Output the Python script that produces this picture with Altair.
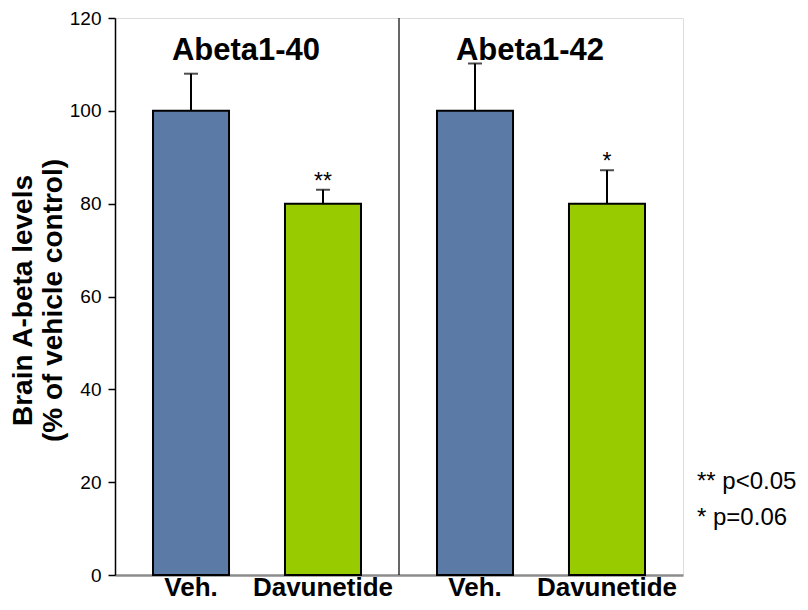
import altair as alt
import pandas as pd

groups = ["Abeta1-40", "Abeta1-40", "Abeta1-42", "Abeta1-42"]
treatments = ["Veh.", "Davunetide", "Veh.", "Davunetide"]
means = [100, 80, 100, 80]
upper = [108, 83, 110.2, 87.2]
stars = ["", "**", "", "*"]

panel_titles = ["Abeta1-40", "Abeta1-42"]
panel_title_y = [111, 111]

note_lines = ["** p<0.05", "* p=0.06"]
note_y = [20, 12.3]

y_ticks = [0, 20, 40, 60, 80, 100, 120]
treat_order = ["Veh.", "Davunetide"]
colors = ["#5B7BA6", "#99CC00"]

FONT = "Liberation Sans"

df = pd.DataFrame({"group": groups, "treatment": treatments, "mean": means,
                   "upper": upper, "star": stars})
tdf = pd.DataFrame({"group": panel_titles, "y": panel_title_y})
ndf = pd.DataFrame({"text": note_lines, "y": note_y})
div = pd.DataFrame({"group": ["Abeta1-42"]})

xg = alt.X("group:N", sort=panel_titles,
           scale=alt.Scale(paddingInner=0, paddingOuter=0),
           axis=alt.Axis(labels=False, ticks=False, title=None,
                         domainColor="#8c8c8c", domainWidth=2.5))
xo = alt.XOffset("treatment:N", sort=treat_order,
                 scale=alt.Scale(paddingInner=0.424, paddingOuter=0.288))
yscale = alt.Scale(domain=[0, 120], nice=False)
yaxis = alt.Axis(values=y_ticks, title=["Brain A-beta levels", "(% of vehicle control)"],
                 titleFontSize=28, titleFontWeight="bold", titleColor="black",
                 titleFont=FONT, titleLineHeight=30, titleAngle=-90,
                 titleX=-92, titleY=282, titleAlign="center", titleBaseline="middle",
                 labelFontSize=19, labelFont=FONT, labelColor="black", labelPadding=7,
                 tickSize=7, tickColor="black", tickWidth=1.5,
                 domainColor="black", domainWidth=1.5, grid=False)

base = alt.Chart(df)

bars = base.mark_bar(stroke="black", strokeWidth=2).encode(
    x=xg, xOffset=xo,
    y=alt.Y("mean:Q", scale=yscale, axis=yaxis),
    color=alt.Color("treatment:N", scale=alt.Scale(domain=treat_order, range=colors), legend=None),
)

err = base.mark_rule(color="black", strokeWidth=2).encode(
    x=xg, xOffset=xo, y="mean:Q", y2="upper:Q")

caps = base.mark_tick(color="black", thickness=2, size=14, orient="horizontal").encode(
    x=xg, xOffset=xo, y="upper:Q")

star_txt = base.mark_text(font=FONT, fontSize=23, color="black", baseline="alphabetic",
                          dy=-1).encode(x=xg, xOffset=xo, y="upper:Q", text="star:N")

xlab = base.mark_text(font=FONT, fontSize=26, fontWeight="bold", color="black",
                      baseline="bottom", dy=26).encode(
    x=xg, xOffset=xo, y=alt.datum(0), text="treatment:N")

titles = alt.Chart(tdf).mark_text(font=FONT, fontSize=31, fontWeight="bold", color="black",
                                  baseline="alphabetic", dx=-11).encode(
    x=xg, y="y:Q", text="group:N")

divider = alt.Chart(div).mark_rule(color="black", strokeWidth=1.2).encode(
    x=alt.X("group:N", sort=panel_titles, bandPosition=0), y=alt.datum(0), y2=alt.datum(120))

notes = alt.Chart(ndf).mark_text(font=FONT, fontSize=24, color="black", align="left",
                                 baseline="middle").encode(
    x=alt.value(582), y="y:Q", text="text:N")

chart = alt.layer(divider, bars, err, caps, star_txt, xlab, titles, notes).properties(
    width=568, height=557,
    autosize=alt.AutoSizeParams(type="none"),
    padding={"left": 107, "top": 10, "right": 117, "bottom": 27},
).configure_view(stroke="black", strokeWidth=1.5).configure(background="white")

chart.save("out.html", embed_options={"renderer": "svg", "actions": False})
